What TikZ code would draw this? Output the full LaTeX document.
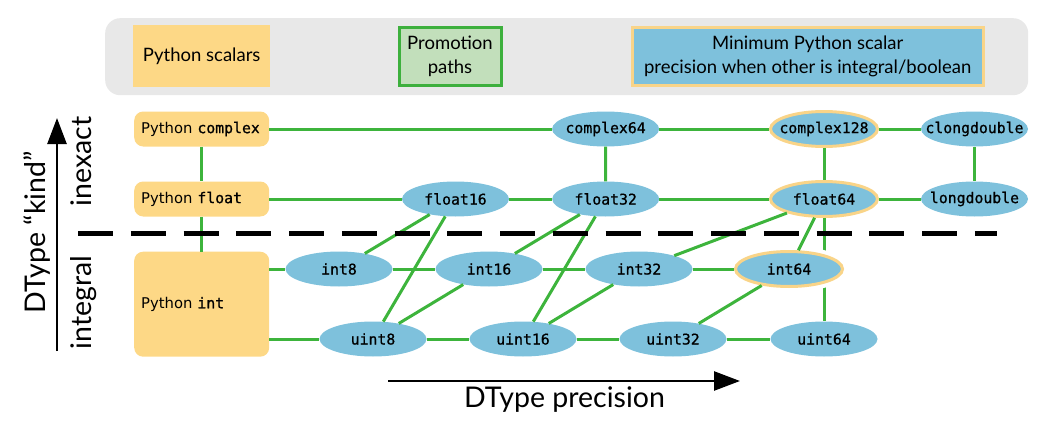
\documentclass[tikz,border=0pt]{standalone}
\usepackage{fontspec}
\setmainfont{Lato}
\newfontfamily\monof[FakeBold=0.8]{DejaVu Sans Mono}
\newfontfamily\pyf{DejaVu Sans}
\usetikzlibrary{shapes.geometric,arrows.meta}
\definecolor{orangefill}{HTML}{FDD886}
\definecolor{bluefill}{HTML}{7EC1DC}
\definecolor{gline}{HTML}{3DB43C}
\definecolor{hiorange}{HTML}{F9D488}
\definecolor{legendgray}{HTML}{E8E8E8}
\definecolor{promofill}{HTML}{C2DFBB}
\definecolor{promoline}{HTML}{3DB03D}
\newcommand\tn[1]{\makebox[0pt]{#1}}
\tikzset{
  tnode/.style={ellipse, fill=bluefill, minimum width=107, minimum height=35, inner sep=0,
    font=\monof\fontsize{14.8}{17}\selectfont},
  thigh/.style={tnode, draw=hiorange, line width=3},
  pybox/.style={fill=orangefill, rounded corners=9, text width=121, align=left, inner xsep=7,
    minimum height=35, font=\fontsize{14.8}{17}\selectfont},
  edge/.style={draw=gline, line width=3},
  legendtext/.style={font=\fontsize{18.5}{24}\selectfont, align=center},
  biglabel/.style={font=\fontsize{28.5}{32}\selectfont},
  axis/.style={line width=2.5, -{Triangle[length=26pt,width=19pt]}},
  dashline/.style={line width=5, dash pattern=on 35pt off 17.75pt},
}
\begin{document}
\begin{tikzpicture}[x=1pt,y=-1pt]
\useasboundingbox (0,0) rectangle (1063,428);
% legend
\node[fill=legendgray, rounded corners=15, minimum width=923, minimum height=77, inner sep=0] (legend) at (566.7,56.7) {};
\node[fill=orangefill, minimum width=137, minimum height=62, inner sep=0, legendtext] (lpy) at (201.7,56) {Python scalars};
\node[fill=promofill, draw=promoline, line width=3, minimum width=102, minimum height=58, inner sep=0, legendtext] (lpromo) at (450,56.3) {Promotion\\paths};
\node[fill=bluefill, draw=hiorange, line width=3, minimum width=351, minimum height=58, inner sep=0, legendtext] (lmin) at (807.7,56.3) {Minimum Python scalar\\precision when other is integral/boolean};

% python boxes
\node[pybox] (pc) at (201.7,129) {\pyf Python \monof complex};
\node[pybox] (pf) at (201.7,199) {\pyf Python \monof float};
\node[pybox, minimum height=105] (pi) at (201.7,304.2) {\pyf Python \monof int};

% line behind int64
\node[thigh] (f64) at (824,199) {\tn{float64}};
\node[tnode] (u64) at (824,339) {\tn{uint64}};
\draw[edge] (f64) -- (u64);

% dtype nodes
\node[tnode] (c64) at (605.6,129) {\tn{complex64}};
\node[thigh] (c128) at (824,129) {\tn{complex128}};
\node[tnode] (cld) at (974.5,129) {\tn{clongdouble}};
\node[tnode] (f16) at (455.5,199) {\tn{float16}};
\node[tnode] (f32) at (605.7,199) {\tn{float32}};
\node[tnode] (ld) at (974.5,199) {\tn{longdouble}};
\node[tnode] (i8) at (339,269) {\tn{int8}};
\node[tnode] (i16) at (489,269) {\tn{int16}};
\node[tnode] (i32) at (639,269) {\tn{int32}};
\node[thigh, preaction={draw=white, line width=11}] (i64) at (789,269) {\tn{int64}};
\node[tnode] (u8) at (373,339) {\tn{uint8}};
\node[tnode] (u16) at (523,339) {\tn{uint16}};
\node[tnode] (u32) at (673,339) {\tn{uint32}};

% edges
\draw[edge] (pc) -- (c64);
\draw[edge] (c64) -- (c128);
\draw[edge] (c128) -- (cld);
\draw[edge] (pf) -- (f16);
\draw[edge] (f16) -- (f32);
\draw[edge] (f32) -- (f64);
\draw[edge] (f64) -- (ld);
\draw[edge] (pc) -- (pf);
\draw[edge] (pf) -- (pi);
\draw[edge] (pi.east |- i8) -- (i8);
\draw[edge] (i8) -- (i16);
\draw[edge] (i16) -- (i32);
\draw[edge] (i32) -- (i64);
\draw[edge] (pi.east |- u8) -- (u8);
\draw[edge] (u8) -- (u16);
\draw[edge] (u16) -- (u32);
\draw[edge] (u32) -- (u64);
\draw[edge] (c64) -- (f32);
\draw[edge] (c128) -- (f64);
\draw[edge] (cld) -- (ld);
\draw[edge] (f16) -- (i8);
\draw[edge] (f16) -- (u8);
\draw[edge] (u8) -- (i16);
\draw[edge] (i16) -- (f32);
\draw[edge] (u16) -- (f32);
\draw[edge] (u16) -- (i32);
\draw[edge] (i32) -- (f64);
\draw[edge] (u32) -- (i64);
\draw[edge] (i64) -- (f64);

% dashed separator
\coordinate (dl) at (78,233);
\coordinate (dr) at (997,233);
\draw[dashline] (dl) -- (dr);

% axes
\coordinate (ka) at (57,351);
\coordinate (kb) at (57,118);
\draw[axis] (ka) -- (kb);
\coordinate (pa) at (388,381);
\coordinate (pb) at (740,381);
\draw[axis] (pa) -- (pb);

\node[biglabel, rotate=90, anchor=base] (kind) at (45,232.5) {DType “kind”};
\node[biglabel, rotate=90, anchor=base] (inexact) at (91.7,161.7) {inexact};
\node[biglabel, rotate=90, anchor=base] (integral) at (91.7,302.5) {integral};
\node[biglabel, anchor=base] (prec) at (564.5,407) {DType precision};
\end{tikzpicture}
\end{document}
